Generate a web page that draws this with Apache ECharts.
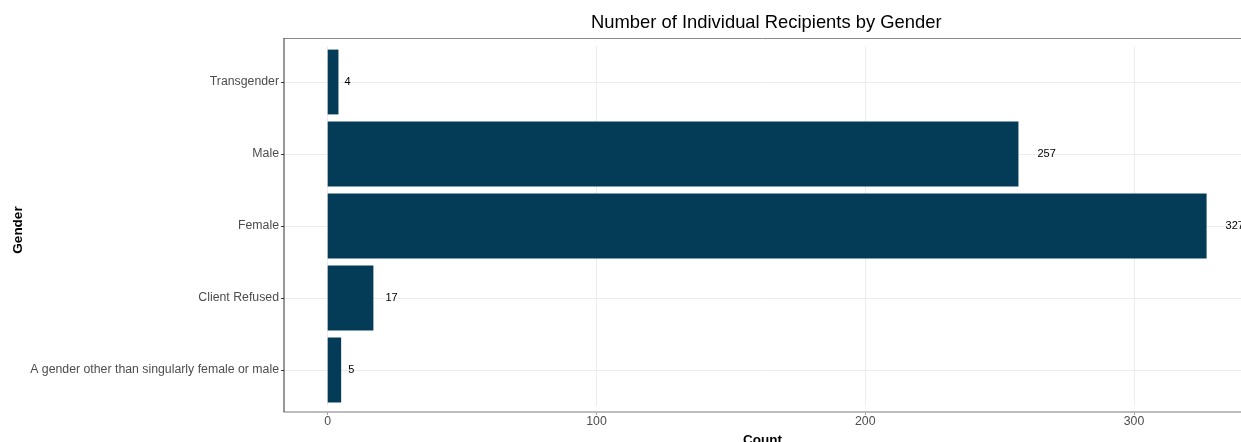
<!DOCTYPE html>
<html>
<head>
<meta charset="utf-8">
<script src="https://cdn.jsdelivr.net/npm/echarts@6/dist/echarts.min.js"></script>
<style>
html,body{margin:0;padding:0;background:#fff;}
#c{width:1241px;height:442px;}
</style>
</head>
<body>
<div id="c"></div>
<script>
// Data (ECharts category axis runs bottom -> top)
const categories = ["A gender other than singularly female or male", "Client Refused", "Female", "Male", "Transgender"];
const counts = [5, 17, 327, 257, 4];
const xTicks = [0, 100, 200, 300];

// styling helpers (not data)
const labelGap = [7, 12, 19, 19, 6];
const FONT = "Liberation Sans, Arial, sans-serif";

const chart = echarts.init(document.getElementById('c'), null, {renderer: 'canvas'});
const option = {
  backgroundColor: '#ffffff',
  animation: false,
  title: {
    text: 'Number of Individual Recipients by Gender',
    left: 586, top: 9,
    textStyle: {fontFamily: FONT, fontSize: 18.4, fontWeight: 'normal', color: '#000'}
  },
  grid: {left: 284, right: 0, top: 46, height: 360, containLabel: false, outerBoundsMode: 'none'},
  xAxis: {
    type: 'value',
    min: -16.26, max: 339.8,
    offset: 6,
    axisLine: {show: true, onZero: false, lineStyle: {color: '#a8a8a8', width: 1.5}},
    axisTick: {show: true, length: 3, lineStyle: {color: '#a8a8a8'}, customValues: xTicks},
    axisLabel: {customValues: xTicks, color: '#4d4d4d', fontSize: 12.3, fontFamily: FONT, margin: 4},
    splitLine: {show: true, lineStyle: {color: '#ececec', width: 1}},
    name: 'Count', nameLocation: 'middle', nameGap: 20,
    nameTextStyle: {fontFamily: FONT, fontSize: 13.5, fontWeight: 'bold', color: '#000'}
  },
  yAxis: {
    type: 'category',
    data: categories,
    position: 'left',
    axisLine: {show: false, onZero: false},
    axisTick: {show: true, length: 3, alignWithLabel: true, lineStyle: {color: '#333'}},
    axisLabel: {color: '#4d4d4d', fontSize: 12.3, fontFamily: FONT, margin: 5},
    splitLine: {show: true, alignWithLabel: true, lineStyle: {color: '#ececec', width: 1}}
  },
  graphic: [
    {type: 'line', shape: {x1: 284, y1: 38.5, x2: 1241, y2: 38.5}, style: {stroke: '#8a8a8a', lineWidth: 1}, z: 10},
    {type: 'line', shape: {x1: 284, y1: 38, x2: 284, y2: 412}, style: {stroke: '#333', lineWidth: 1}, z: 10},
    {type: 'text', x: 18, y: 230, rotation: Math.PI / 2,
      style: {text: 'Gender', fontFamily: FONT, fontSize: 13.5, fontWeight: 'bold', fill: '#000', textAlign: 'center', textVerticalAlign: 'middle'}}
  ],
  series: [{
    type: 'bar',
    barCategoryGap: '10%',
    itemStyle: {color: '#043c58'},
    data: counts.map((v, i) => ({value: v, label: {distance: labelGap[i]}})),
    label: {show: true, position: 'right', color: '#000', fontSize: 11, fontFamily: FONT}
  }]
};
chart.setOption(option);
</script>
</body>
</html>
